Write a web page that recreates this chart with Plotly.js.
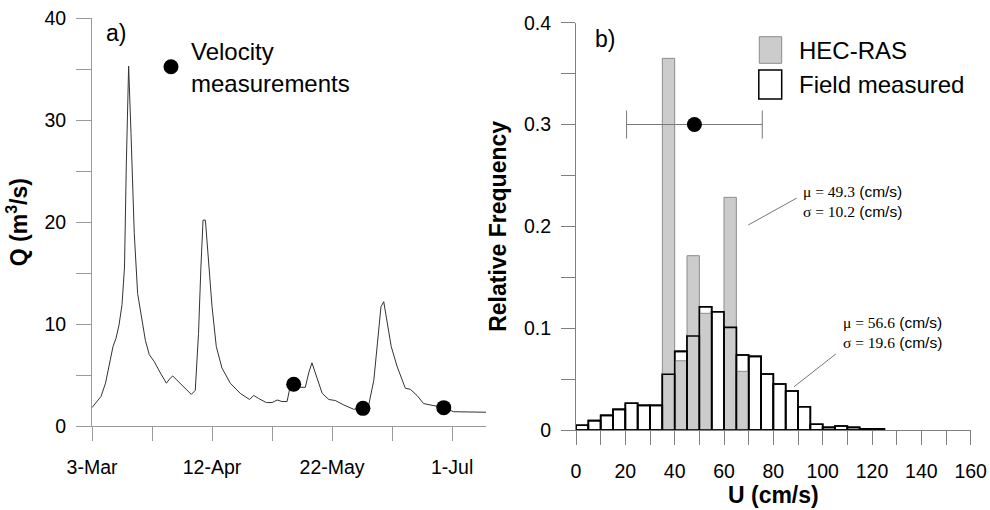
<!DOCTYPE html>
<html>
<head>
<meta charset="utf-8">
<script src="https://cdn.plot.ly/plotly-3.0.1.min.js"></script>
<style>html,body{margin:0;padding:0;background:#fff;}</style>
</head>
<body>
<div id="chart" style="width:990px;height:510px;"></div>
<script>
// ---- panel a) discharge hydrograph ----
const flowDates = ['2001-03-03','2001-03-06','2001-03-07 12:00','2001-03-10','2001-03-11','2001-03-12','2001-03-13','2001-03-13 20:00','2001-03-14 10:00','2001-03-15 05:00','2001-03-16','2001-03-17 02:00','2001-03-18 05:00','2001-03-19 17:00','2001-03-20 19:00','2001-03-22 02:00','2001-03-23 19:00','2001-03-25 19:00','2001-03-27 19:00','2001-03-29 02:00','2001-03-29 22:00','2001-03-31 07:00','2001-04-02 12:00','2001-04-05 02:00','2001-04-06 10:00','2001-04-07 12:00','2001-04-08 07:00','2001-04-09','2001-04-09 19:00','2001-04-10 12:00','2001-04-12','2001-04-13 10:00','2001-04-15 07:00','2001-04-18 02:00','2001-04-21 10:00','2001-04-24 12:00','2001-04-25 22:00','2001-04-27 12:00','2001-04-30 02:00','2001-05-02','2001-05-03 17:00','2001-05-05 07:00','2001-05-07','2001-05-07 22:00','2001-05-09 05:00','2001-05-11 10:00','2001-05-13 02:00','2001-05-14 05:00','2001-05-15 07:00','2001-05-17','2001-05-18 17:00','2001-05-20 22:00','2001-05-23 02:00','2001-05-25 22:00','2001-05-29 05:00','2001-06-01 07:00','2001-06-03 05:00','2001-06-04 22:00','2001-06-06 12:00','2001-06-07 07:00','2001-06-08 05:00','2001-06-09 07:00','2001-06-10 17:00','2001-06-12 17:00','2001-06-15 10:00','2001-06-17 02:00','2001-06-19 07:00','2001-06-21 12:00','2001-06-24 22:00','2001-06-28 05:00','2001-07-01 12:00','2001-07-06','2001-07-12 07:00'];
const flowQ = [1.8,2.9,4.2,7.8,8.6,9.9,11.9,15.6,25.4,35.3,28.7,18.9,13.0,10.4,8.4,7.0,6.3,5.2,4.2,4.7,4.9,4.5,3.9,3.1,3.5,9.1,15.6,20.2,20.2,17.6,11.7,7.8,5.7,4.2,3.2,2.6,3.0,2.7,2.3,2.3,2.55,2.4,2.4,3.7,4.1,3.8,3.8,5.2,6.2,4.7,3.2,2.6,2.5,2.06,1.64,1.73,2.06,4.5,9.1,11.7,12.2,10.1,7.8,5.8,3.7,3.6,3.0,2.2,1.96,1.8,1.4,1.35,1.35];
const measDates = ['2001-05-09 05:00','2001-06-01 07:00','2001-06-28 05:00'];
const measQ = [4.1,1.73,1.8];
const xRangeA = ['2001-03-03','2001-07-12 07:00'];

// ---- panel b) velocity histograms ----
const binCenters = [2.5,7.5,12.5,17.5,22.5,27.5,32.5,37.5,42.5,47.5,52.5,57.5,62.5,67.5,72.5,77.5,82.5,87.5,92.5,97.5,102.5,107.5,112.5,117.5,122.5];
const fieldFreq = [0.0046,0.0092,0.0144,0.0203,0.0262,0.0242,0.0242,0.0547,0.0772,0.0923,0.1211,0.1162,0.1008,0.0737,0.0723,0.055,0.0452,0.0383,0.0229,0.0056,0.0026,0.0039,0.0026,0.0012,0.0012];
const hecCenters = [37.5,42.5,47.5,52.5,57.5,62.5,67.5];
const hecFreq = [0.365,0.068,0.1712,0.1146,0,0.2285,0.0576];
const meanU = [48];
const meanFreq = [0.3];
const sdU = [27.5];
const statsHec = ['49.3','10.2'];
const statsField = ['56.6','19.6'];

const SANS = 'Liberation Sans, Arial, sans-serif';
const SERIF = 'Liberation Serif';
const DAY = 86400000;

const traces = [
  {type:'scatter', mode:'lines', x:flowDates, y:flowQ, xaxis:'x', yaxis:'y',
   line:{color:'#333', width:1}, showlegend:false, hoverinfo:'skip'},
  {type:'scatter', mode:'markers', x:measDates, y:measQ, xaxis:'x', yaxis:'y',
   name:'Velocity<br>measurements', legend:'legend',
   marker:{color:'#000', size:15}},
  {type:'bar', x:binCenters, y:fieldFreq, width:5, xaxis:'x2', yaxis:'y2',
   marker:{color:'#fff', line:{color:'#000', width:1.6}}, showlegend:false},
  {type:'bar', x:hecCenters, y:hecFreq, width:5, xaxis:'x2', yaxis:'y2', name:'HEC-RAS',
   marker:{color:'#cccccc', line:{color:'#8c8c8c', width:1}}, showlegend:false},
  {type:'bar', x:binCenters, y:fieldFreq, width:5, xaxis:'x2', yaxis:'y2', name:'Field measured',
   marker:{color:'rgba(0,0,0,0)', line:{color:'#000', width:1.6}}, showlegend:false},
  {type:'scatter', mode:'markers', x:meanU, y:meanFreq, xaxis:'x2', yaxis:'y2', showlegend:false,
   marker:{color:'#000', size:15},
   error_x:{type:'data', array:sdU, visible:true, color:'#777', thickness:1, width:14}}
];

const axA = '#9a9a9a', axB = '#808080';
const tickFont = {family:SANS, size:19.5, color:'#000'};
const titleFont = {family:SANS, size:23, color:'#000', weight:'bold'};

const layout = {
  width:990, height:510, margin:{l:0,r:0,t:0,b:0},
  paper_bgcolor:'#fff', plot_bgcolor:'rgba(0,0,0,0)',
  barmode:'overlay', bargap:0,
  font:{family:SANS, color:'#000'},
  xaxis:{domain:[92/990, 486/990], anchor:'y', type:'date', range:xRangeA,
    tick0:'2001-03-03', dtick:40*DAY, tickformat:'%-d-%b',
    ticks:'outside', ticklen:14, tickcolor:axA, tickwidth:1,
    minor:{tick0:'2001-03-03', dtick:20*DAY, ticks:'outside', ticklen:14, tickcolor:axA, tickwidth:1, showgrid:false},
    showline:true, linecolor:axA, linewidth:1, showgrid:false, zeroline:false,
    tickfont:tickFont, ticklabelstandoff:10},
  yaxis:{domain:[84/510, 491.7/510], anchor:'x', range:[0,40], dtick:10,
    ticks:'outside', ticklen:15, tickcolor:axA, tickwidth:1,
    minor:{dtick:5, ticks:'outside', ticklen:15, tickcolor:axA, tickwidth:1, showgrid:false},
    showline:true, linecolor:axA, linewidth:1, showgrid:false, zeroline:false,
    tickfont:tickFont, ticklabelstandoff:6,
    title:{text:'Q (m<sup>3</sup>/s)', font:titleFont, standoff:10}},
  xaxis2:{domain:[576/990, 970.7/990], anchor:'y2', range:[0,160], dtick:20,
    ticks:'outside', ticklen:14, tickcolor:axB, tickwidth:1,
    minor:{dtick:10, ticks:'outside', ticklen:14, tickcolor:axB, tickwidth:1, showgrid:false},
    showline:true, linecolor:axB, linewidth:1, showgrid:false, zeroline:false,
    tickfont:tickFont, ticklabelstandoff:10,
    title:{text:'U (cm/s)', font:titleFont, standoff:4}},
  yaxis2:{domain:[80/510, 487.3/510], anchor:'x2', range:[0,0.4], dtick:0.1,
    ticks:'outside', ticklen:14, tickcolor:axB, tickwidth:1,
    minor:{dtick:0.05, ticks:'outside', ticklen:14, tickcolor:axB, tickwidth:1, showgrid:false},
    showline:true, linecolor:axB, linewidth:1, showgrid:false, zeroline:false,
    tickfont:tickFont, ticklabelstandoff:6,
    title:{text:'Relative Frequency', font:titleFont, standoff:10}},
  legend:{x:151/990, y:1-29/510, xanchor:'left', yanchor:'top', bgcolor:'rgba(0,0,0,0)',
    font:{family:SANS, size:24, color:'#000'}, valign:'middle'},
  shapes:[
    {type:'rect', xref:'paper', yref:'paper', x0:759.3/990, x1:781.7/990, y0:1-63.3/510, y1:1-36.7/510,
     fillcolor:'#cccccc', line:{color:'#8c8c8c', width:1}},
    {type:'rect', xref:'paper', yref:'paper', x0:758.8/990, x1:781.7/990, y0:1-99/510, y1:1-70/510,
     fillcolor:'#fff', line:{color:'#000', width:1.5}},
    {type:'line', xref:'x2', yref:'y2', x0:89.5, y0:0.2278, x1:69.8, y1:0.2013, line:{color:'#777', width:1}},
    {type:'line', xref:'x2', yref:'y2', x0:105.3, y0:0.0746, x1:88.4, y1:0.0425, line:{color:'#777', width:1}}
  ],
  annotations:[
    {xref:'paper', yref:'paper', x:104/990, y:1-33/510, xanchor:'left', yanchor:'middle', showarrow:false,
     text:'a)', font:{family:SANS, size:23, color:'#000'}},
    {xref:'paper', yref:'paper', x:593/990, y:1-39/510, xanchor:'left', yanchor:'middle', showarrow:false,
     text:'b)', font:{family:SANS, size:23, color:'#000'}},
    {xref:'paper', yref:'paper', x:796.7/990, y:1-51/510, xanchor:'left', yanchor:'middle', showarrow:false,
     text:'HEC-RAS', font:{family:SANS, size:24, color:'#000'}},
    {xref:'paper', yref:'paper', x:796.7/990, y:1-85/510, xanchor:'left', yanchor:'middle', showarrow:false,
     text:'Field measured', font:{family:SANS, size:24, color:'#000'}},
    {xref:'x2', yref:'y2', x:91.2, y:0.2242, xanchor:'left', yanchor:'middle', showarrow:false, align:'left',
     font:{family:SANS, size:15.5, color:'#000'},
     text:'<span style="font-family:'+SERIF+'">\u03bc = '+statsHec[0]+'</span> (cm/s)<br><span style="font-family:'+SERIF+'">\u03c3 = '+statsHec[1]+'</span> (cm/s)'},
    {xref:'x2', yref:'y2', x:107.4, y:0.0953, xanchor:'left', yanchor:'middle', showarrow:false, align:'left',
     font:{family:SANS, size:15.5, color:'#000'},
     text:'<span style="font-family:'+SERIF+'">\u03bc = '+statsField[0]+'</span> (cm/s)<br><span style="font-family:'+SERIF+'">\u03c3 = '+statsField[1]+'</span> (cm/s)'}
  ]
};

Plotly.newPlot('chart', traces, layout, {displayModeBar:false, staticPlot:true});
</script>
</body>
</html>
